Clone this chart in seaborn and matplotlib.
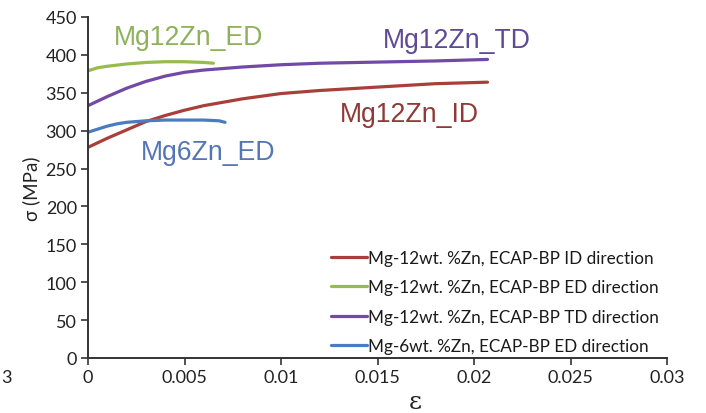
import matplotlib
matplotlib.use("Agg")
import matplotlib.pyplot as plt
import seaborn as sns

# Stress-strain curves (strain, stress in MPa)
strain_id = [0, 0.001, 0.002, 0.003, 0.004, 0.005, 0.006, 0.008, 0.010, 0.012, 0.014, 0.016, 0.018, 0.0207]
stress_id = [278, 290, 301, 312, 320, 327, 333, 342, 349, 353, 356, 359, 362, 364]

strain_ed12 = [0, 0.0005, 0.001, 0.002, 0.003, 0.004, 0.005, 0.006, 0.0065]
stress_ed12 = [379, 383, 385, 388, 390, 391, 391, 390, 389]

strain_td = [0, 0.001, 0.002, 0.003, 0.004, 0.005, 0.006, 0.008, 0.010, 0.012, 0.014, 0.016, 0.018, 0.0207]
stress_td = [333, 345, 356, 365, 372, 377, 380, 384, 387, 389, 390, 391, 392, 394]

strain_ed6 = [0, 0.0005, 0.001, 0.0015, 0.002, 0.003, 0.004, 0.005, 0.006, 0.0068, 0.0071]
stress_ed6 = [298, 302, 306, 309, 311, 313, 314, 314, 314, 313, 311]

legend_labels = [
    "Mg-12wt. %Zn, ECAP-BP ID direction",
    "Mg-12wt. %Zn, ECAP-BP ED direction",
    "Mg-12wt. %Zn, ECAP-BP TD direction",
    "Mg-6wt. %Zn, ECAP-BP ED direction",
]
curve_names = ["Mg12Zn_ID", "Mg12Zn_ED", "Mg12Zn_TD", "Mg6Zn_ED"]
x_ticks = [0, 0.005, 0.01, 0.015, 0.02, 0.025, 0.03]
x_tick_labels = ["0", "0.005", "0.01", "0.015", "0.02", "0.025", "0.03"]
y_ticks = [0, 50, 100, 150, 200, 250, 300, 350, 400, 450]

line_colors = ["#A93F3B", "#98BB4E", "#7249A6", "#4A7CC0"]
text_colors = ["#8E3B37", "#8DB25A", "#5F4A95", "#5576B6"]

sns.set_theme(style="white")
plt.rcParams["font.family"] = ["Lato", "DejaVu Sans"]

fig = plt.figure(figsize=(7.06, 4.14), dpi=100)
ax = fig.add_axes([88 / 706, 1 - 359 / 414, (667 - 88) / 706, (359 - 18) / 414])

series = [(strain_id, stress_id), (strain_ed12, stress_ed12),
          (strain_td, stress_td), (strain_ed6, stress_ed6)]
for (xs, ys), col, lab in zip(series, line_colors, legend_labels):
    sns.lineplot(x=xs, y=ys, color=col, linewidth=2.3, label=lab, ax=ax,
                 sort=False, estimator=None)

ax.set_xlim(0, 0.03)
ax.set_ylim(0, 450)
ax.set_xticks(x_ticks)
ax.set_xticklabels(x_tick_labels)
ax.set_yticks(y_ticks)
ax.tick_params(axis="both", which="both", direction="out", length=5, width=1.2,
               color="#333333", labelsize=13, labelcolor="#222222", pad=3,
               bottom=True, left=True)
for side in ["top", "right"]:
    ax.spines[side].set_visible(False)
for side in ["left", "bottom"]:
    ax.spines[side].set_color("#333333")
    ax.spines[side].set_linewidth(1.4)

ax.set_ylabel("σ (MPa)", fontsize=13.5, color="#222222", labelpad=4)
ax.set_xlabel("ε", fontsize=18, color="#222222", family=["DejaVu Serif"])
ax.xaxis.label.set_va("center")
ax.xaxis.set_label_coords((415 - 88) / 579, -0.128)

# Curve annotations
label_pos = [(0.01665, 322), (0.0052, 424), (0.01912, 419), (0.0062, 272)]
for name, (lx, ly), tc in zip(curve_names, label_pos, text_colors):
    ax.text(lx, ly, name, color=tc, fontsize=19.2, ha="center", va="center",
            family=["Liberation Sans", "DejaVu Sans"])

leg = ax.legend(loc="upper left", bbox_to_anchor=(331 / 706, 1 - 251 / 414),
                bbox_transform=fig.transFigure, frameon=False, fontsize=12.3,
                handlelength=2.1, handletextpad=0.05, labelspacing=0.78,
                borderpad=0, borderaxespad=0)
for t in leg.get_texts():
    t.set_color("#1a1a1a")

fig.text(0.001, 1 - 378 / 414, "3", fontsize=13, color="#222222",
         ha="left", va="center")

fig.savefig("out.png", dpi=100)
